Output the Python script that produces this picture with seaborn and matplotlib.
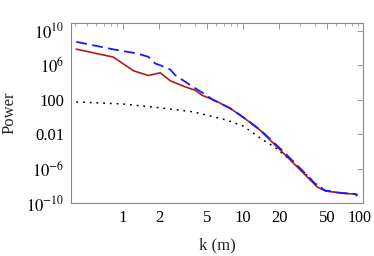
import numpy as np
import pandas as pd
import matplotlib
matplotlib.use("Agg")
import matplotlib.pyplot as plt
import matplotlib.ticker as mticker
import matplotlib.transforms as mtransforms
import seaborn as sns

# values (power given as log10)
k_red = [0.41, 0.835, 1.23, 1.63, 2.05, 2.48, 3.3, 4.0, 4.55, 5.88, 7.84, 9.5,
         10.8, 13.9, 20.5, 30.1, 41.4, 48.5, 64.6, 89]
logp_red = [7.87, 6.94, 5.35, 4.81, 5.12, 4.2, 3.49, 3.1, 2.52, 1.89, 0.98, 0.2,
            -0.38, -1.55, -3.87, -6.19, -8.13, -8.6, -8.84, -8.99]

k_blue = [0.41, 0.835, 1.31, 1.63, 1.86, 2.05, 2.48, 2.73, 3.64, 4.7, 5.69, 7.84,
          10.8, 13.9, 20.5, 30.1, 41.4, 48.5, 64.6, 86, 89]
logp_blue = [8.72, 7.84, 7.37, 6.98, 6.2, 6.0, 5.5, 4.85, 3.69, 2.72, 1.94, 1.0,
             -0.35, -1.5, -3.7, -6.0, -8.0, -8.55, -8.82, -8.95, -9.2]

k_black = [0.41, 1.0, 2.05, 3.88, 7.36, 10.1, 14.8, 18.6, 24.8, 32, 39.9, 48.5, 64.6, 89]
logp_black = [1.74, 1.5, 1.05, 0.58, -0.38, -1.08, -2.71, -3.56, -5.03, -6.4, -7.74,
              -8.55, -8.84, -8.99]

x_ticks = [1, 2, 5, 10, 20, 50, 100]
y_ticks = [1e10, 1e6, 1e2, 1e-2, 1e-6, 1e-10]
y_labels = ["$10^{10}$", "$10^{6}$", "100", "0.01", "$10^{-6}$", "$10^{-10}$"]

sns.set_style("white")
plt.rcParams["font.family"] = ["Liberation Serif", "DejaVu Serif"]
plt.rcParams["mathtext.fontset"] = "stix"
plt.rcParams["font.size"] = 12

fig = plt.figure(figsize=(3.74, 2.56), dpi=100)
ax = fig.add_axes([0.19, 0.207, 0.781, 0.703])

sns.lineplot(x=k_black, y=10.0 ** np.array(logp_black), ax=ax, color="black",
             lw=1.1, linestyle=(0, (1.2, 3.2)))
sns.lineplot(x=k_red, y=10.0 ** np.array(logp_red), ax=ax, color="#b01c1c", lw=1.2)
sns.lineplot(x=k_blue, y=10.0 ** np.array(logp_blue), ax=ax, color="#1a1aff",
             lw=1.3, linestyle=(0, (6, 3)))

ax.set_xscale("log")
ax.set_yscale("log")
ax.set_xlim(0.371, 100)
ax.set_ylim(1e-10, 10 ** 10.9)

ax.set_xticks(x_ticks)
ax.set_xticklabels([str(t) for t in x_ticks])
ax.xaxis.set_minor_locator(mticker.LogLocator(base=10, subs=np.arange(2, 10)))
ax.xaxis.set_minor_formatter(mticker.NullFormatter())
ax.set_yticks(y_ticks)
ax.set_yticklabels(y_labels)
ax.yaxis.set_minor_locator(mticker.NullLocator())

ax.tick_params(which="both", direction="in", top=True, right=True,
               color="#888888", labelcolor="black", labelsize=12)
ax.tick_params(which="major", length=4, width=0.6, pad=5)
ax.tick_params(which="minor", length=2, width=0.5)
for s in ax.spines.values():
    s.set_color("#888888")
    s.set_linewidth(0.8)

# keep the last x label inside the canvas
last = ax.get_xticklabels()[-1]
last.set_fontsize(11.5)
last.set_transform(last.get_transform() +
                   mtransforms.ScaledTranslation(-2.5 / 72, 0, fig.dpi_scale_trans))

ax.set_xlabel("k (m)", fontsize=12, labelpad=8)
ax.set_ylabel("Power", fontsize=12, labelpad=6)

fig.savefig("out.png", dpi=100)
